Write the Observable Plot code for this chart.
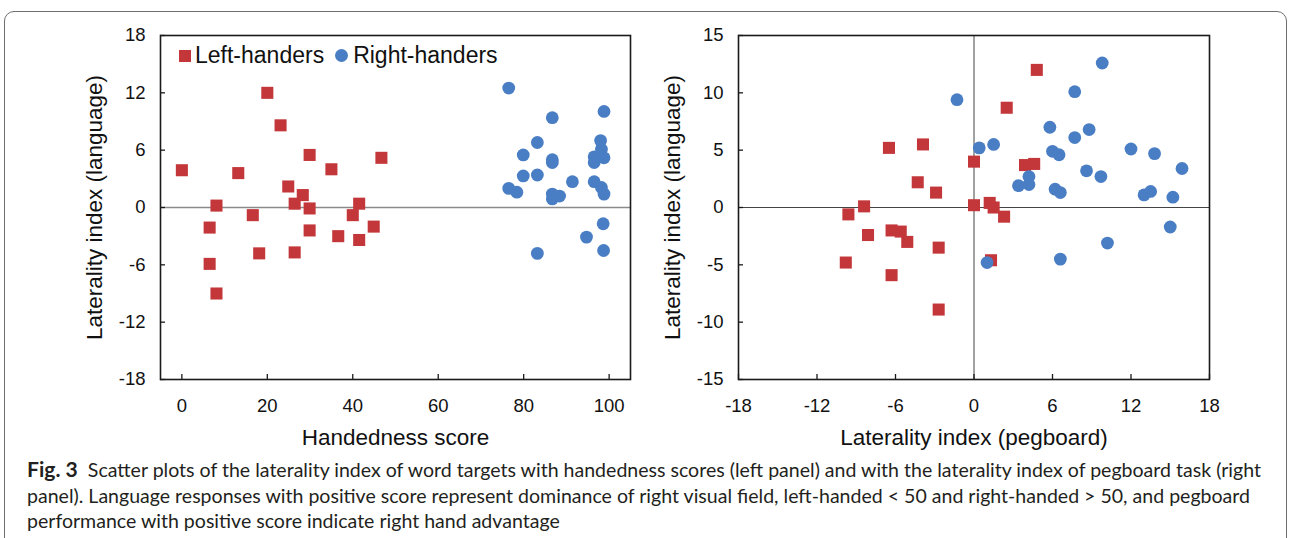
<!DOCTYPE html>
<html><head><meta charset="utf-8">
<script src="https://cdn.jsdelivr.net/npm/d3@7"></script>
<script src="https://cdn.jsdelivr.net/npm/@observablehq/plot@0.6"></script>
<style>
html,body{margin:0;padding:0;background:#fff;}
body{width:1290px;height:538px;overflow:hidden;position:relative;font-family:"Liberation Sans",Arial,sans-serif;}
#box{position:absolute;left:4px;top:11px;width:1283px;height:600px;border:1px solid #6e6e6e;border-radius:10px;box-sizing:border-box;}
#left{position:absolute;left:0;top:0;}
#right{position:absolute;left:650px;top:0;}
#legend{position:absolute;left:179px;top:42px;font-size:23px;color:#111;display:flex;align-items:center;white-space:nowrap;}
#legend .sq{display:inline-block;width:12px;height:12px;background:#c3373a;margin-right:4px;}
#legend .ci{display:inline-block;width:13px;height:13px;border-radius:50%;background:#4a7ec4;margin-left:11px;margin-right:5px;}
#caption{position:absolute;left:27px;top:456px;font-family:"Lato",sans-serif;font-size:17px;line-height:25.5px;color:#231f20;white-space:nowrap;}
#caption b{font-weight:700;font-size:1.08em;}
#caption span{display:inline-block;}
</style>
</head><body>
<div id="box"></div>
<div id="left"></div>
<div id="right"></div>
<div id="legend"><span class="sq"></span><span>Left-handers</span><span class="ci"></span><span>Right-handers</span></div>
<div id="caption"><span id="cap1"><b>Fig. 3</b>&nbsp; Scatter plots of the laterality index of word targets with handedness scores (left panel) and with the laterality index of pegboard task (right</span><br><span>panel). Language responses with positive score represent dominance of right visual field, left-handed &lt; 50 and right-handed &gt; 50, and pegboard</span><br><span>performance with positive score indicate right hand advantage</span></div>
<script>
// ---- Left panel: handedness score vs laterality index (language)
const lhHandedness = [0,6.5,6.5,8.1,8.1,13.2,16.6,18.1,20,23.1,24.9,26.4,26.4,28.3,29.9,29.9,29.9,35,36.6,40,41.5,41.5,44.9,46.7];
const lhLanguage   = [3.9,-2.1,-5.9,0.2,-9.0,3.6,-0.8,-4.8,12.0,8.6,2.2,0.4,-4.7,1.3,5.5,-0.1,-2.4,4.0,-3.0,-0.8,0.4,-3.4,-2.0,5.2];
const rhHandedness = [76.5,86.7,98.8,83.2,98,98.2,79.9,86.7,86.7,96.5,98.8,96.5,79.9,83.2,91.4,96.5,76.5,78.4,98.2,98.8,86.7,86.7,88.4,98.6,94.7,83.2,98.7];
const rhLanguage   = [12.5,9.4,10.05,6.8,7.0,6.1,5.5,5.0,4.7,5.3,5.2,4.7,3.3,3.4,2.7,2.7,2.0,1.6,2.1,1.4,1.4,0.9,1.2,-1.7,-3.1,-4.8,-4.5];

// ---- Right panel: laterality index (pegboard) vs laterality index (language)
const lhPegboard   = [4.8,2.5,-6.5,-3.9,0,3.9,4.6,-4.3,-2.9,-8.4,0,1.2,1.5,2.3,-9.6,-8.1,-6.3,-5.6,-5.1,-2.7,-9.8,-6.3,-2.7,1.3];
const lhPegLang    = [12.0,8.7,5.2,5.5,4.0,3.7,3.8,2.2,1.3,0.1,0.2,0.4,0.0,-0.8,-0.6,-2.4,-2.0,-2.1,-3.0,-3.5,-4.8,-5.9,-8.9,-4.6];
const rhPegboard   = [9.8,7.7,-1.3,5.8,8.8,7.7,0.4,1.5,6.0,6.5,12.0,13.8,15.9,8.6,9.7,4.2,3.4,4.2,6.2,6.6,13.0,13.5,15.2,15.0,10.2,6.6,1.0];
const rhPegLang    = [12.6,10.1,9.4,7.0,6.8,6.1,5.2,5.5,4.9,4.6,5.1,4.7,3.4,3.2,2.7,2.7,1.9,2.0,1.6,1.3,1.1,1.4,0.9,-1.7,-3.1,-4.5,-4.8];

// ---- Tick labels
const leftXTicks  = [0,20,40,60,80,100];
const leftYTicks  = [-18,-12,-6,0,6,12,18];
const rightXTicks = [-18,-12,-6,0,6,12,18];
const rightYTicks = [-15,-10,-5,0,5,10,15];

const RED = "#c3373a", BLUE = "#4a7ec4";
const zip = (xs, ys) => xs.map((x, i) => ({x, y: ys[i]}));
const fmt = d => String(d); // plain hyphen-minus, as in the reference

function panel({lh, rh, xDomain, yDomain, xTicks, yTicks, xLabel, yLabel, width, marginLeft, marginRight, crossLines}) {
  const height = 460, marginTop = 35, marginBottom = 81;
  const frameW = width - marginLeft - marginRight, frameH = height - marginTop - marginBottom;
  const tick = 5;
  const marks = [];
  if (crossLines) {
    marks.push(Plot.ruleY([0], {stroke: "#444", strokeWidth: 1}));
    marks.push(Plot.ruleX([0], {stroke: "#444", strokeWidth: 1}));
  } else {
    marks.push(Plot.ruleY([0], {stroke: "#8a8a8a", strokeWidth: 1.6}));
  }
  marks.push(
    Plot.dot(lh, {x: "x", y: "y", symbol: "square", r: 6.8, fill: RED, stroke: null}),
    Plot.dot(rh, {x: "x", y: "y", symbol: "circle", r: 6.4, fill: BLUE, stroke: null}),
    // inward tick marks
    Plot.ruleX(xTicks, {stroke: "#1a1a1a", strokeWidth: 1.3, insetTop: frameH - tick}),
    Plot.ruleY(yTicks, {stroke: "#1a1a1a", strokeWidth: 1.3, insetRight: frameW - tick}),
    Plot.frame({stroke: "#1a1a1a", strokeWidth: 1.6}),
    // tick labels
    Plot.axisX({ticks: xTicks, tickSize: 0, tickPadding: 19, fontSize: 18.5, tickFormat: fmt, label: null}),
    Plot.axisY({ticks: yTicks, tickSize: 0, tickPadding: 15, fontSize: 18.5, tickFormat: fmt, label: null}),
    // axis titles
    Plot.axisX({ticks: [], tickSize: 0, fontSize: 22.5, label: xLabel, labelAnchor: "center", labelArrow: "none", labelOffset: 65}),
    Plot.axisY({ticks: [], tickSize: 0, fontSize: 22.5, label: yLabel, labelAnchor: "center", labelArrow: "none", labelOffset: 74})
  );
  return Plot.plot({
    width, height,
    marginLeft, marginRight, marginTop, marginBottom,
    style: {fontFamily: "'Liberation Sans', Arial, sans-serif", color: "#111", background: "transparent", overflow: "visible"},
    x: {domain: xDomain},
    y: {domain: yDomain},
    marks
  });
}

document.getElementById("left").append(panel({
  lh: zip(lhHandedness, lhLanguage), rh: zip(rhHandedness, rhLanguage),
  xDomain: [-5, 105], yDomain: [-18, 18], xTicks: leftXTicks, yTicks: leftYTicks,
  xLabel: "Handedness score", yLabel: "Laterality index (language)",
  width: 650, marginLeft: 160, marginRight: 20, crossLines: false
}));
document.getElementById("right").append(panel({
  lh: zip(lhPegboard, lhPegLang), rh: zip(rhPegboard, rhPegLang),
  xDomain: [-18, 18], yDomain: [-15, 15], xTicks: rightXTicks, yTicks: rightYTicks,
  xLabel: "Laterality index (pegboard)", yLabel: "Laterality index (language)",
  width: 640, marginLeft: 88, marginRight: 81, crossLines: true
}));

// fit caption so that its first line spans the same width as in the reference
const cap = document.getElementById("caption");
const w = document.getElementById("cap1").getBoundingClientRect().width;
const target = 1235;
if (w > 0) cap.style.fontSize = (17 * target / w).toFixed(2) + "px";
</script>
</body></html>
